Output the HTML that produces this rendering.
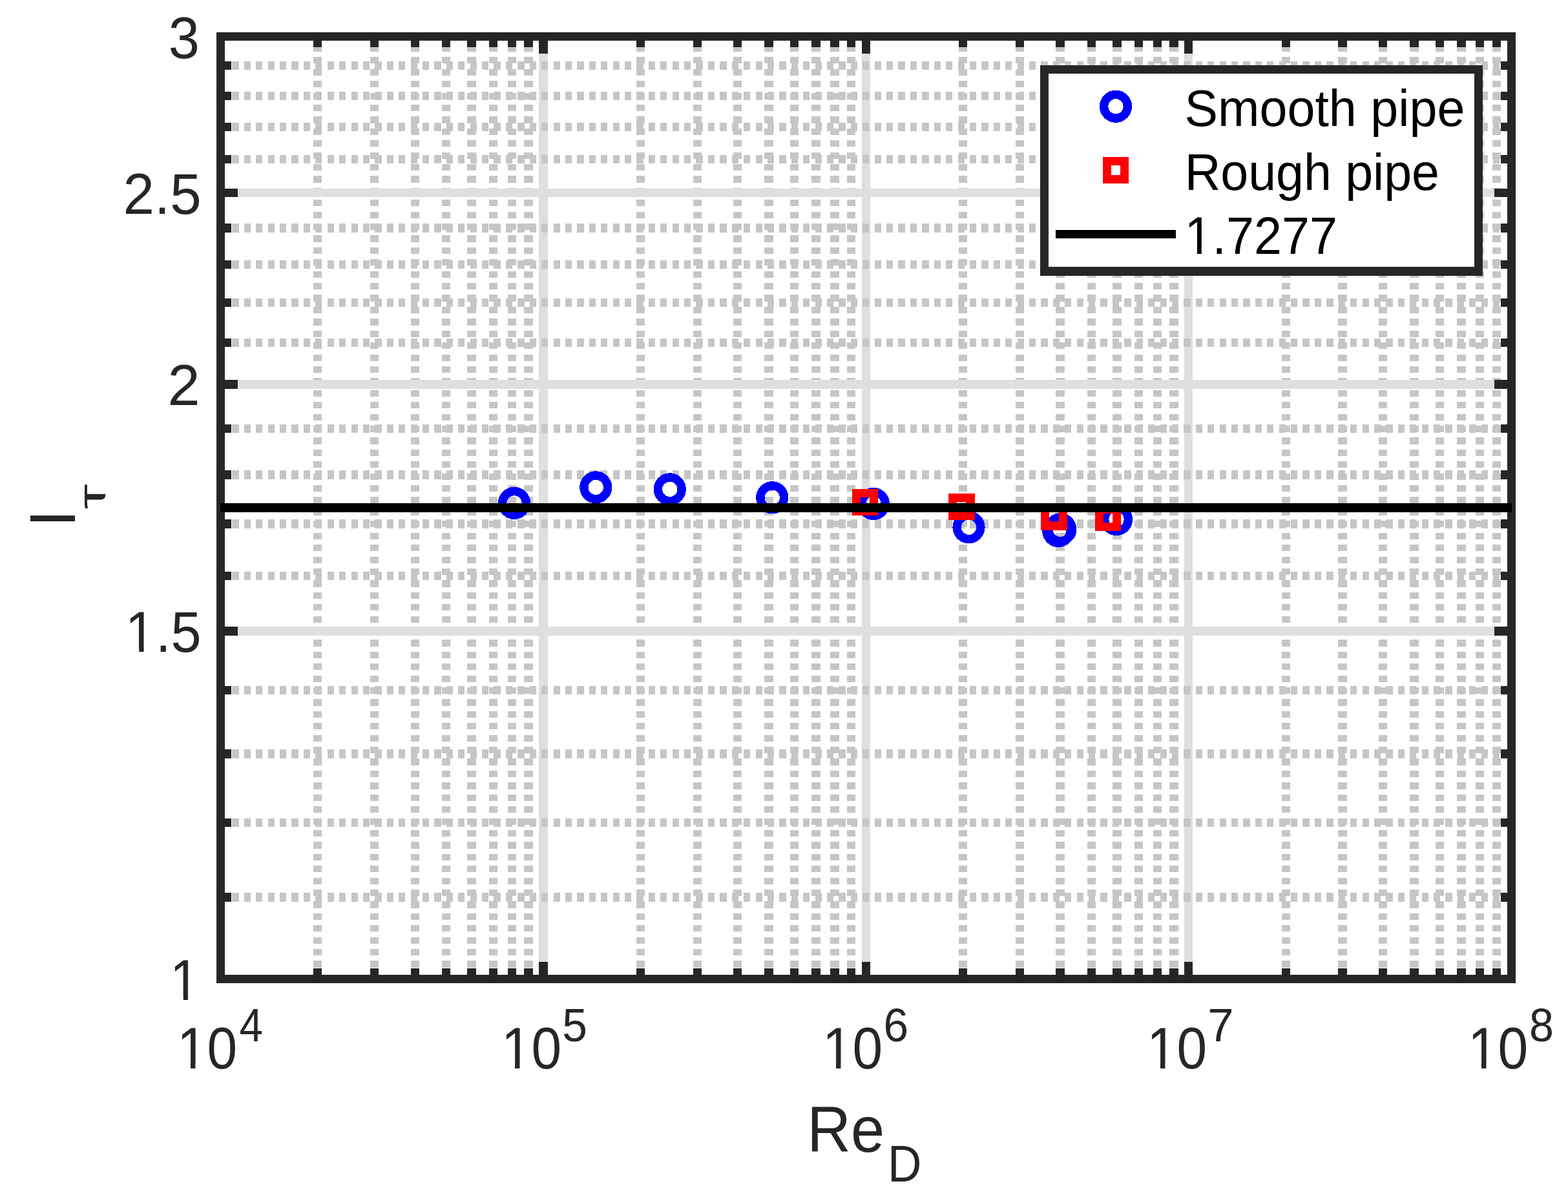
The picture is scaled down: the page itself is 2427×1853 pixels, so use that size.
<!DOCTYPE html>
<html lang="en"><head><meta charset="utf-8"><title>I_tau vs Re_D</title>
<style>html,body{margin:0;padding:0;background:#fff;width:2427px;height:1853px}svg{display:block}text{font-family:"Liberation Sans",sans-serif;white-space:pre}</style>
</head><body>
<svg width="2427" height="1853" viewBox="0 0 2427 1853">
<rect width="2427" height="1853" fill="#fff"/>
<g shape-rendering="crispEdges">
<path fill="#dfdfdf" d="M834 63h14V1509h-14zM1334 63h13V1509h-13zM1833 63h13V1509h-13z"/>
<path d="M491.5 69.88V1509M579.5 69.88V1509M642.5 69.88V1509M690.5 69.88V1509M763.5 69.88V1509M792.5 69.88V1509M991.5 69.88V1509M1079.5 69.88V1509M1141.5 69.88V1509M1229.5 69.88V1509M1317.5 69.88V1509M1490.5 69.88V1509M1578.5 69.88V1509M1689.5 69.88V1509M1762.5 69.88V1509M1791.5 69.88V1509M1990.5 69.88V1509M2140.5 69.88V1509M2228.5 69.88V1509M2290.5 69.88V1509M2316.5 69.88V1509" fill="none" stroke="#c6c6c6" stroke-width="13" stroke-dasharray="10.205 8.205"/>
<path d="M730.0 69.88V1509M818.0 69.88V1509M1190.0 69.88V1509M1263.0 69.88V1509M1292.0 69.88V1509M1641.0 69.88V1509M1729.0 69.88V1509M1817.0 69.88V1509M2078.0 69.88V1509M2189.0 69.88V1509M2262.0 69.88V1509" fill="none" stroke="#c6c6c6" stroke-width="14" stroke-dasharray="10.205 8.205"/>
<path fill="#dfdfdf" d="M348 970H2333v14H348zM348 588H2333v14H348zM348 292H2333v13H348z"/>
<path d="M359.41 1273.5H2333M359.41 1068.5H2333M359.41 891.5H2333M359.41 663.5H2333M359.41 530.5H2333M359.41 468.5H2333M359.41 409.5H2333M359.41 246.5H2333M359.41 196.5H2333M359.41 148.5H2333M359.41 101.5H2333" fill="none" stroke="#c6c6c6" stroke-width="13" stroke-dasharray="10.205 8.207"/>
<path d="M359.41 1389.0H2333M359.41 1167.0H2333M359.41 811.0H2333M359.41 735.0H2333M359.41 353.0H2333" fill="none" stroke="#c6c6c6" stroke-width="14" stroke-dasharray="10.205 8.207"/>
<g fill="#262626">
<path fill-rule="evenodd" d="M335 50H2346V1522H335ZM348 63V1509H2333V63Z"/>
<path d="M834 63h14v20h-14zM834 1489h14v20h-14zM1334 63h13v20h-13zM1334 1489h13v20h-13zM1833 63h13v20h-13zM1833 1489h13v20h-13zM485 63h13v10h-13zM485 1499h13v10h-13zM573 63h13v10h-13zM573 1499h13v10h-13zM636 63h13v10h-13zM636 1499h13v10h-13zM684 63h13v10h-13zM684 1499h13v10h-13zM723 63h14v10h-14zM723 1499h14v10h-14zM757 63h13v10h-13zM757 1499h13v10h-13zM786 63h13v10h-13zM786 1499h13v10h-13zM811 63h14v10h-14zM811 1499h14v10h-14zM985 63h13v10h-13zM985 1499h13v10h-13zM1073 63h13v10h-13zM1073 1499h13v10h-13zM1135 63h13v10h-13zM1135 1499h13v10h-13zM1183 63h14v10h-14zM1183 1499h14v10h-14zM1223 63h13v10h-13zM1223 1499h13v10h-13zM1256 63h14v10h-14zM1256 1499h14v10h-14zM1285 63h14v10h-14zM1285 1499h14v10h-14zM1311 63h13v10h-13zM1311 1499h13v10h-13zM1484 63h13v10h-13zM1484 1499h13v10h-13zM1572 63h13v10h-13zM1572 1499h13v10h-13zM1634 63h14v10h-14zM1634 1499h14v10h-14zM1683 63h13v10h-13zM1683 1499h13v10h-13zM1722 63h14v10h-14zM1722 1499h14v10h-14zM1756 63h13v10h-13zM1756 1499h13v10h-13zM1785 63h13v10h-13zM1785 1499h13v10h-13zM1810 63h14v10h-14zM1810 1499h14v10h-14zM1984 63h13v10h-13zM1984 1499h13v10h-13zM2071 63h14v10h-14zM2071 1499h14v10h-14zM2134 63h13v10h-13zM2134 1499h13v10h-13zM2182 63h14v10h-14zM2182 1499h14v10h-14zM2222 63h13v10h-13zM2222 1499h13v10h-13zM2255 63h14v10h-14zM2255 1499h14v10h-14zM2284 63h13v10h-13zM2284 1499h13v10h-13zM2310 63h13v10h-13zM2310 1499h13v10h-13zM348 970h20v14h-20zM2313 970h20v14h-20zM348 588h20v14h-20zM2313 588h20v14h-20zM348 292h20v13h-20zM2313 292h20v13h-20zM348 1382h10v14h-10zM2323 1382h10v14h-10zM348 1267h10v13h-10zM2323 1267h10v13h-10zM348 1160h10v14h-10zM2323 1160h10v14h-10zM348 1062h10v13h-10zM2323 1062h10v13h-10zM348 885h10v13h-10zM2323 885h10v13h-10zM348 804h10v14h-10zM2323 804h10v14h-10zM348 728h10v14h-10zM2323 728h10v14h-10zM348 657h10v13h-10zM2323 657h10v13h-10zM348 524h10v13h-10zM2323 524h10v13h-10zM348 462h10v13h-10zM2323 462h10v13h-10zM348 403h10v13h-10zM2323 403h10v13h-10zM348 346h10v14h-10zM2323 346h10v14h-10zM348 240h10v13h-10zM2323 240h10v13h-10zM348 190h10v13h-10zM2323 190h10v13h-10zM348 142h10v13h-10zM2323 142h10v13h-10zM348 95h10v13h-10zM2323 95h10v13h-10z"/>
</g>
<g fill="none" stroke="#0000ff" stroke-width="13.5">
<circle cx="796.0" cy="778.85" r="18.35"/>
<circle cx="922.25" cy="754.35" r="18.35"/>
<circle cx="1036.75" cy="757.35" r="18.35"/>
<circle cx="1195.25" cy="770.25" r="18.35"/>
<circle cx="1352" cy="780" r="18.35"/>
<circle cx="1499.5" cy="816.25" r="18.35"/>
<circle cx="1638.25" cy="822" r="18.35"/>
<circle cx="1641.25" cy="819.3" r="18.35"/>
<circle cx="1728" cy="804" r="18.35"/>
</g>
<path fill="#ff0000" fill-rule="evenodd" d="M1319 757H1359V798H1319ZM1332 770V785H1346V770ZM1468 764H1509V805H1468ZM1481 777V791H1495V777ZM1611 780H1652V821H1611ZM1624 793V807H1639V793ZM1695 782H1735V822H1695ZM1708 795V809H1722V795Z"/>
<rect x="341" y="779" width="1999" height="14" fill="#000"/>
<rect x="1610" y="101" width="685" height="326" fill="#fff"/>
<path fill="#262626" fill-rule="evenodd" d="M1610 101H2295V427H1610ZM1623 114V413H2282V114Z"/>
<circle cx="1727" cy="164.75" r="18.35" fill="none" stroke="#0000ff" stroke-width="13.5"/>
<path fill="#ff0000" fill-rule="evenodd" d="M1707 243H1747V284H1707ZM1720 256V271H1734V256Z"/>
<rect x="1634" y="356" width="186" height="13" fill="#000"/>
</g>
<g>
<text transform="translate(260.71 90.00) scale(0.9587 1)" font-size="90.20" fill="#262626">3</text>
<text transform="translate(190.62 331.00) scale(0.9805 1)" font-size="88.80" fill="#262626">2.5</text>
<text transform="translate(259.47 627.00) scale(1.0135 1)" font-size="88.80" fill="#262626">2</text>
<clipPath id="c1"><path clip-rule="evenodd" d="M173.9 919.7H344.9V1044.7H173.9ZM199.06 1001.83H215.15V1011.00H199.06ZM222.63 1001.83H238.06V1011.00H222.63Z"/></clipPath><g clip-path="url(#c1)"><text transform="translate(193.86 1009.00) scale(0.9481 1)" font-size="89.30" fill="#262626">1.5</text></g>
<clipPath id="c2"><path clip-rule="evenodd" d="M243.1 1458.2H327.4V1583.9H243.1ZM268.12 1540.79H283.75V1550.00H268.12ZM291.00 1540.79H305.99V1550.00H291.00Z"/></clipPath><g clip-path="url(#c2)"><text transform="translate(263.10 1548.00) scale(0.9141 1)" font-size="89.80" fill="#262626">1</text></g>
<clipPath id="c3"><path clip-rule="evenodd" d="M253.9 1563.9H400.8V1690.0H253.9ZM279.07 1646.77H295.03V1656.00H279.07ZM302.45 1646.77H317.75V1656.00H302.45Z"/></clipPath><g clip-path="url(#c3)"><text transform="translate(273.93 1654.00) scale(0.9315 1)" font-size="90.10" fill="#262626">10</text></g>
<text transform="translate(370.50 1612.00) scale(0.9008 1)" font-size="72.70" fill="#262626">4</text>
<clipPath id="c4"><path clip-rule="evenodd" d="M755.9 1563.9H902.8V1690.0H755.9ZM781.07 1646.77H797.03V1656.00H781.07ZM804.45 1646.77H819.75V1656.00H804.45Z"/></clipPath><g clip-path="url(#c4)"><text transform="translate(775.93 1654.00) scale(0.9315 1)" font-size="90.10" fill="#262626">10</text></g>
<text transform="translate(870.21 1612.00) scale(0.9574 1)" font-size="72.70" fill="#262626">5</text>
<clipPath id="c5"><path clip-rule="evenodd" d="M1252.9 1563.9H1399.8V1690.0H1252.9ZM1278.07 1646.77H1294.03V1656.00H1278.07ZM1301.45 1646.77H1316.75V1656.00H1301.45Z"/></clipPath><g clip-path="url(#c5)"><text transform="translate(1272.93 1654.00) scale(0.9315 1)" font-size="90.10" fill="#262626">10</text></g>
<text transform="translate(1367.48 1612.00) scale(0.9539 1)" font-size="72.70" fill="#262626">6</text>
<clipPath id="c6"><path clip-rule="evenodd" d="M1754.9 1563.9H1901.8V1690.0H1754.9ZM1780.07 1646.77H1796.03V1656.00H1780.07ZM1803.45 1646.77H1818.75V1656.00H1803.45Z"/></clipPath><g clip-path="url(#c6)"><text transform="translate(1774.93 1654.00) scale(0.9315 1)" font-size="90.10" fill="#262626">10</text></g>
<text transform="translate(1869.28 1612.00) scale(0.9985 1)" font-size="72.70" fill="#262626">7</text>
<clipPath id="c7"><path clip-rule="evenodd" d="M2251.9 1563.9H2398.8V1690.0H2251.9ZM2277.07 1646.77H2293.03V1656.00H2277.07ZM2300.45 1646.77H2315.75V1656.00H2300.45Z"/></clipPath><g clip-path="url(#c7)"><text transform="translate(2271.93 1654.00) scale(0.9315 1)" font-size="90.10" fill="#262626">10</text></g>
<text transform="translate(2367.04 1612.00) scale(0.9380 1)" font-size="72.70" fill="#262626">8</text>
<text transform="translate(1249.31 1783.00) scale(0.9414 1)" font-size="99.60" fill="#262626">Re</text>
<text transform="translate(1374.04 1828.50) scale(0.9167 1)" font-size="79.20" fill="#262626">D</text>
<g transform="translate(116 807) rotate(-90)">
<text transform="translate(-8.91 0.00) scale(0.9621 1)" font-size="100.30" fill="#262626">I</text>
<clipPath id="ct"><path clip-rule="evenodd" d="M0 -10H80V70H0ZM42.26 38.02H80V70H42.26Z"/></clipPath>
<g clip-path="url(#ct)"><text transform="translate(18.59 47.00) scale(1.6201 1)" font-size="61.30" fill="#262626">τ</text></g>
</g>
<text transform="translate(1833.49 195.00) scale(0.9601 1)" font-size="80.50" fill="#000">Smooth pipe</text>
<text transform="translate(1833.68 294.00) scale(0.9577 1)" font-size="80.50" fill="#000">Rough pipe</text>
<clipPath id="c8"><path clip-rule="evenodd" d="M1813.6 311.6H2101.5V425.6H1813.6ZM1838.23 386.42H1853.00V395.00H1838.23ZM1859.83 386.42H1873.99V395.00H1859.83Z"/></clipPath><g clip-path="url(#c8)"><text transform="translate(1833.57 393.00) scale(0.9492 1)" font-size="81.40" fill="#000">1.7277</text></g>
</g>
</svg>
</body></html>
